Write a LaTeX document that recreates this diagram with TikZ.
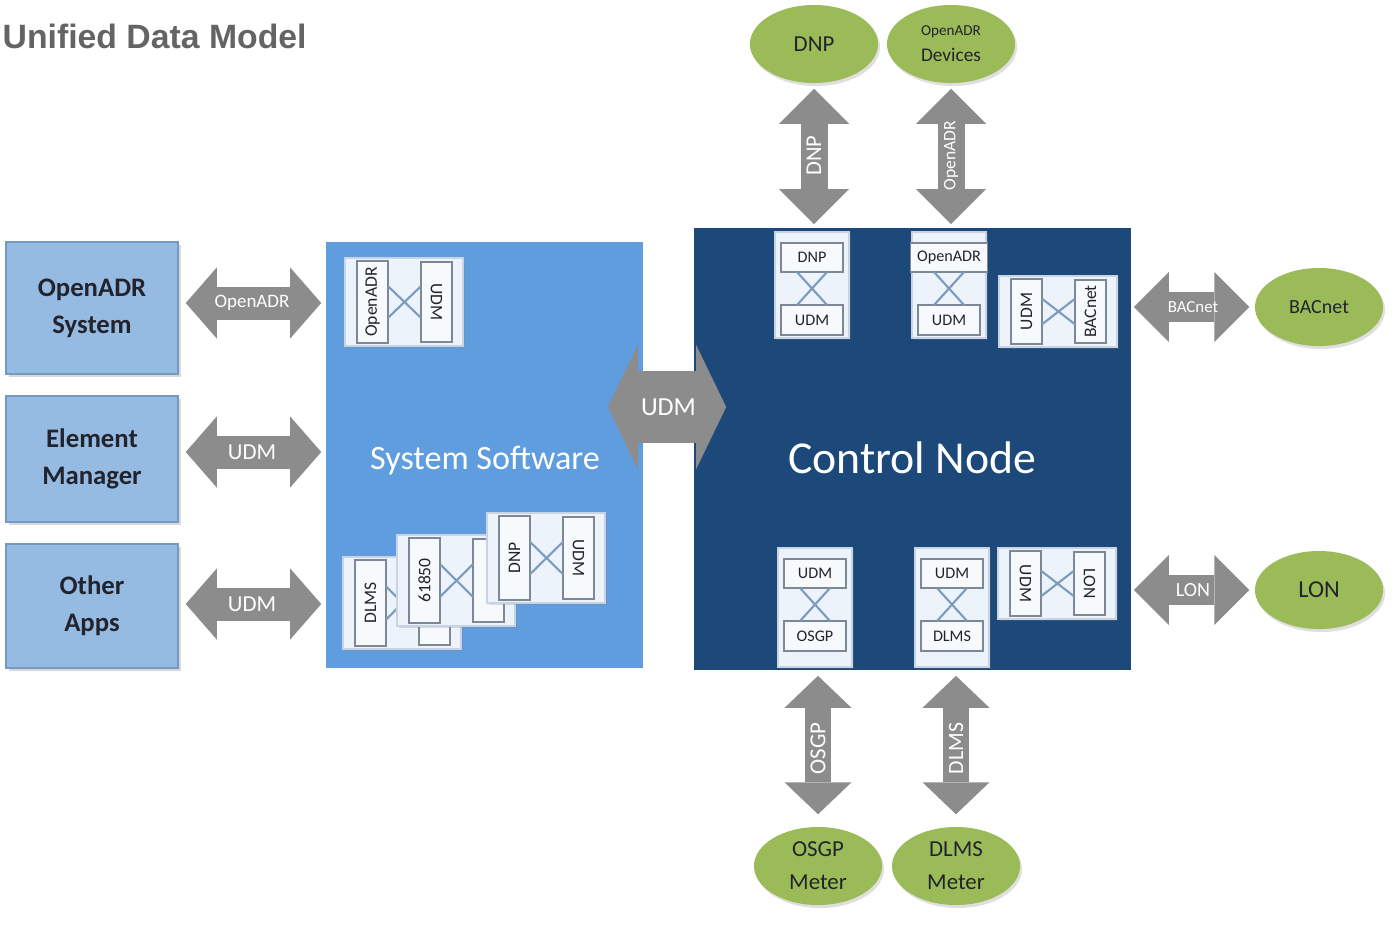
\documentclass[tikz,border=0pt]{standalone}
\usepackage{fontspec}
\setmainfont{Carlito}
\newfontfamily\titlefont{Liberation Sans}
\usetikzlibrary{shapes.geometric,arrows.meta,shadows}

\definecolor{leftblue}{RGB}{150,187,226}
\definecolor{leftedge}{RGB}{118,152,196}
\definecolor{softblue}{RGB}{95,157,222}
\definecolor{navy}{RGB}{28,73,122}
\definecolor{arrowgray}{RGB}{140,140,140}
\definecolor{olive}{RGB}{155,187,89}
\definecolor{cardfill}{RGB}{236,243,251}
\definecolor{cardedge}{RGB}{200,212,228}
\definecolor{boxedge}{RGB}{125,135,150}
\definecolor{crossline}{RGB}{125,155,190}
\definecolor{inktext}{RGB}{35,35,45}
\definecolor{titlegray}{RGB}{100,100,100}

\newcommand{\fs}[1]{\fontsize{#1}{#1}\selectfont}

\tikzset{
  leftbox/.style={draw=leftedge, fill=leftblue, minimum width=1.72cm, align=center,
    font=\fontsize{7.6}{10.5}\selectfont\bfseries, text=inktext,
    drop shadow={shadow xshift=0.03cm, shadow yshift=-0.03cm, opacity=0.3}},
  ellip/.style={ellipse, fill=olive, minimum width=1.28cm, minimum height=0.78cm,
    text=inktext, align=center, inner sep=0pt,
    drop shadow={shadow xshift=0.02cm, shadow yshift=-0.03cm, opacity=0.25}},
  blockarrow/.style n args={3}{draw=arrowgray, line width=#1,
    arrows={Triangle[length=#3 0, width=#2 0, line width=0pt 0]-Triangle[length=#3 0, width=#2 0, line width=0pt 0]}},
  arrtxt/.style={text=white, inner sep=0pt},
  modcard/.style={draw=cardedge, fill=cardfill, line width=0.6pt,
    drop shadow={shadow xshift=0.02cm, shadow yshift=-0.02cm, opacity=0.25}},
  modbox/.style={draw=boxedge, fill=white!60!cardfill, line width=0.5pt},
  modx/.style={draw=crossline, line width=0.6pt},
  modtxt/.style={font=\fs{5}, text=inktext, inner sep=0pt}
}

% card with two upright boxes and a cross
\newcommand{\hmod}[8]{%
  \draw[modcard] (#2,#3) rectangle ++(118,#4);
  \draw[modbox] (#2+12,#3+3) rectangle ++(31,#4-6) node[midway, rotate=#6, modtxt] (#1l) {#5};
  \draw[modbox] (#2+76,#3+4) rectangle ++(31,#4-8) node[midway, rotate=#8, modtxt] (#1r) {#7};
  \draw[modx] (#2+43,#3+0.32*#4) -- (#2+76,#3+0.68*#4) (#2+43,#3+0.68*#4) -- (#2+76,#3+0.32*#4);
}
% card with two flat boxes and a cross
\newcommand{\vmod}[7][62]{%
  \draw[modcard] (#3,#4) rectangle ++(74,#5);
  \draw[modbox] (#3+37-#1/2,#4+11) rectangle ++(#1,29) node[midway, modtxt, font=\fs{4.6}] (#2t) {#6};
  \draw[modbox] (#3+6,#4+73) rectangle ++(62,30) node[midway, modtxt, font=\fs{4.6}] (#2b) {#7};
  \draw[modx] (#3+22,#4+40) -- (#3+52,#4+73) (#3+52,#4+40) -- (#3+22,#4+73);
}

\begin{document}
\begin{tikzpicture}[x=0.01cm, y=-0.01cm]
\useasboundingbox (0,0) rectangle (1397,929);

\node[anchor=west, inner sep=0pt, text=titlegray, font=\titlefont\bfseries\fs{9.6}] (title) at (2,36) {Unified Data Model};

% left column
\node[leftbox, minimum height=1.32cm] (oadrsys) at (92,308) {OpenADR\\System};
\node[leftbox, minimum height=1.26cm] (elmgr) at (92,459) {Element\\Manager};
\node[leftbox, minimum height=1.24cm] (apps) at (92,606) {Other\\Apps};

% main blocks
\node[fill=softblue, minimum width=3.17cm, minimum height=4.26cm] (sys) at (484.5,455) {};
\node[text=white, font=\fs{9.7}] (systxt) at (485,461) {System Software};
\node[fill=navy, minimum width=4.37cm, minimum height=4.42cm] (ctrl) at (912.5,449) {};
\node[text=white, font=\fs{13}] (ctrltxt) at (912,458) {Control Node};

% outer devices
\node[ellip, font=\fs{6.5}] (dnp) at (814,44) {DNP};
\node[ellip, font=\fontsize{5.5}{7.4}\selectfont] (oadrdev) at (951,44) {{\fs{4.3}OpenADR}\\Devices};
\node[ellip, font=\fs{5.7}] (bacnet) at (1319,307) {BACnet};
\node[ellip, font=\fs{6.9}] (lon) at (1319,590) {LON};
\node[ellip, font=\fontsize{6.5}{9.4}\selectfont] (osgp) at (818,866) {OSGP\\Meter};
\node[ellip, font=\fontsize{6.5}{9.4}\selectfont] (dlms) at (956,866) {DLMS\\Meter};

% modules in system software
\hmod{ma}{345}{258}{88}{OpenADR}{90}{UDM}{-90}
\hmod{ms1}{343}{557}{92}{DLMS}{90}{}{-90}
\hmod{ms2}{397}{535}{91}{61850}{90}{}{-90}
\hmod{ms3}{487}{513}{90}{DNP}{90}{UDM}{-90}

% modules in control node
\vmod{md}{775}{232}{106}{DNP}{UDM}
\vmod[77]{mo}{912}{232}{106}{OpenADR}{UDM}
\hmod{mb}{999}{276}{71}{UDM}{90}{BACnet}{90}
\vmod{mg}{778}{548}{119}{UDM}{OSGP}
\vmod{mm}{915}{548}{119}{UDM}{DLMS}
\hmod{ml}{998}{548}{71}{UDM}{-90}{LON}{-90}

% left links
\coordinate (p1) at ([yshift=0.05cm]oadrsys.east);
\coordinate (p2) at ([yshift=0.07cm]elmgr.east);
\coordinate (p3) at ([yshift=0.02cm]apps.east);
\draw[blockarrow={0.33cm}{0.71cm}{0.31cm}, shorten <=0.07cm, shorten >=0.04cm] (p1) -- (p1 -| sys.west)
  node[midway, arrtxt, font=\fs{5.4}] (l1) {OpenADR};
\draw[blockarrow={0.33cm}{0.71cm}{0.31cm}, shorten <=0.07cm, shorten >=0.04cm] (p2) -- (p2 -| sys.west)
  node[midway, arrtxt, font=\fs{6.5}] (l2) {UDM};
\draw[blockarrow={0.33cm}{0.71cm}{0.31cm}, shorten <=0.07cm, shorten >=0.04cm] (p3) -- (p3 -| sys.west)
  node[midway, arrtxt, font=\fs{6.5}] (l3) {UDM};

% software to node
\coordinate (udmc) at (667,407);
\draw[blockarrow={0.72cm}{1.24cm}{0.30cm}, shorten <=-0.36cm, shorten >=-0.33cm] (udmc -| sys.east) -- (udmc -| ctrl.west)
  node[midway, arrtxt, font=\fs{7.4}] (l0) {UDM};

% top links
\draw[blockarrow={0.27cm}{0.70cm}{0.35cm}, shorten <=0.05cm, shorten >=0.03cm] (dnp) -- (dnp |- ctrl.north)
  node[midway, arrtxt, rotate=90, font=\fs{6.4}] (l4) {DNP};
\draw[blockarrow={0.27cm}{0.70cm}{0.35cm}, shorten <=0.05cm, shorten >=0.03cm] (oadrdev) -- (oadrdev |- ctrl.north)
  node[midway, arrtxt, rotate=90, font=\fs{5}] (l5) {OpenADR};

% right links
\draw[blockarrow={0.30cm}{0.70cm}{0.35cm}, shorten <=0.02cm, shorten >=0.05cm] (bacnet -| ctrl.east) -- (bacnet)
  node[midway, arrtxt, font=\fs{4.8}] (l6) {BACnet};
\draw[blockarrow={0.30cm}{0.70cm}{0.35cm}, shorten <=0.02cm, shorten >=0.05cm] (lon -| ctrl.east) -- (lon)
  node[midway, arrtxt, font=\fs{5.7}] (l7) {LON};

% bottom links
\draw[blockarrow={0.26cm}{0.67cm}{0.32cm}, shorten <=0.05cm, shorten >=0.12cm] (osgp |- ctrl.south) -- (osgp)
  node[midway, arrtxt, rotate=90, font=\fs{6.5}] (l8) {OSGP};
\draw[blockarrow={0.26cm}{0.67cm}{0.32cm}, shorten <=0.05cm, shorten >=0.12cm] (dlms |- ctrl.south) -- (dlms)
  node[midway, arrtxt, rotate=90, font=\fs{6.2}] (l9) {DLMS};
\end{tikzpicture}
\end{document}
